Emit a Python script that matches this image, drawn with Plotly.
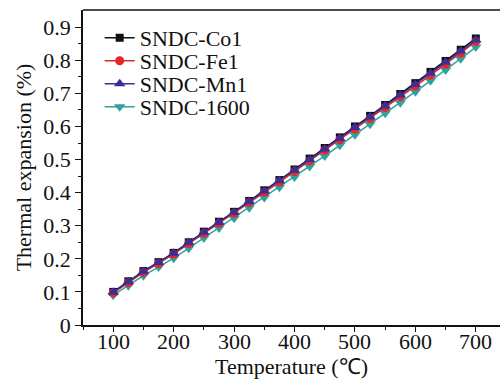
import plotly.graph_objects as go

temperature = [100, 125, 150, 175, 200, 225, 250, 275, 300, 325, 350, 375, 400,
               425, 450, 475, 500, 525, 550, 575, 600, 625, 650, 675, 700]
co1 = [0.100, 0.132, 0.163, 0.190, 0.218, 0.250, 0.282, 0.312, 0.342, 0.375, 0.407, 0.438, 0.470,
       0.503, 0.535, 0.567, 0.600, 0.632, 0.665, 0.698, 0.731, 0.765, 0.798, 0.832, 0.866]
fe1 = [0.097, 0.128, 0.159, 0.186, 0.214, 0.246, 0.277, 0.307, 0.337, 0.370, 0.401, 0.432, 0.464,
       0.496, 0.528, 0.560, 0.592, 0.624, 0.657, 0.690, 0.722, 0.755, 0.788, 0.822, 0.857]
mn1 = [0.099, 0.131, 0.162, 0.189, 0.217, 0.249, 0.280, 0.310, 0.340, 0.373, 0.405, 0.436, 0.468,
       0.500, 0.532, 0.564, 0.597, 0.629, 0.662, 0.695, 0.727, 0.761, 0.794, 0.828, 0.861]
s1600 = [0.090, 0.119, 0.149, 0.175, 0.202, 0.232, 0.263, 0.293, 0.323, 0.354, 0.385, 0.416, 0.447,
         0.479, 0.511, 0.543, 0.575, 0.607, 0.640, 0.672, 0.705, 0.738, 0.771, 0.805, 0.840]
x_ticks = [100, 200, 300, 400, 500, 600, 700]
x_tick_labels = ["100", "200", "300", "400", "500", "600", "700"]

FONT = "Liberation Serif, Times New Roman, serif"
FS = 22

fig = go.Figure()
fig.add_trace(go.Scatter(x=temperature, y=s1600, name="SNDC-1600", mode="lines+markers",
                         line=dict(color="#2fa19e", width=1.5),
                         marker=dict(symbol="triangle-down", size=10, color="#2fa19e"),
                         legend="legend4"))
fig.add_trace(go.Scatter(x=temperature, y=co1, name="SNDC-Co1", mode="lines+markers",
                         line=dict(color="#111111", width=1.5),
                         marker=dict(symbol="square", size=8, color="#111111"),
                         legend="legend"))
fig.add_trace(go.Scatter(x=temperature, y=fe1, name="SNDC-Fe1", mode="lines+markers",
                         line=dict(color="#e8262a", width=1.5),
                         marker=dict(symbol="circle", size=9, color="#e8262a"),
                         legend="legend2"))
fig.add_trace(go.Scatter(x=temperature, y=mn1, name="SNDC-Mn1", mode="lines+markers",
                         line=dict(color="#3a2f98", width=1.5),
                         marker=dict(symbol="triangle-up", size=10, color="#3a2f98"),
                         legend="legend3"))


def leg(ypix):
    return dict(x=0.04, y=(325 - ypix) / 315, xanchor="left", yanchor="middle",
                bgcolor="rgba(0,0,0,0)", borderwidth=0,
                font=dict(family=FONT, size=FS, color="#111111"), itemwidth=30)


annotations = [dict(x=v, y=(325 - 341) / 315, xref="x", yref="paper", text=t,
                    showarrow=False, xanchor="center", yanchor="middle",
                    font=dict(family=FONT, size=FS, color="#111111"))
               for v, t in zip(x_ticks, x_tick_labels)]

fig.update_layout(
    width=500, height=379,
    margin=dict(l=83, r=0, t=10, b=54),
    paper_bgcolor="white", plot_bgcolor="white",
    font=dict(family=FONT, size=FS, color="#111111"),
    showlegend=True,
    legend=leg(38), legend2=leg(61), legend3=leg(84), legend4=leg(107),
    xaxis=dict(range=[50, 740], tickmode="array", tickvals=x_ticks,
               showticklabels=False,
               showline=True, linecolor="#111111", linewidth=1.5,
               ticks="outside", ticklen=5, tickwidth=1.2, tickcolor="#111111",
               minor=dict(tickmode="array", tickvals=[50, 150, 250, 350, 450, 550, 650],
                          ticks="outside", ticklen=3, tickcolor="#111111"),
               showgrid=False, zeroline=False,
               title=dict(text="Temperature (℃)", standoff=29, font=dict(size=FS))),
    yaxis=dict(range=[0, 0.952], tickmode="array",
               tickvals=[0, 0.1, 0.2, 0.3, 0.4, 0.5, 0.6, 0.7, 0.8, 0.9],
               ticktext=["0", "0.1", "0.2", "0.3", "0.4", "0.5", "0.6", "0.7", "0.8", "0.9"],
               showline=True, linecolor="#111111", linewidth=1.5,
               ticks="outside", ticklen=6, tickwidth=1.2, tickcolor="#111111",
               minor=dict(tickmode="array",
                          tickvals=[0.05, 0.15, 0.25, 0.35, 0.45, 0.55, 0.65, 0.75, 0.85],
                          ticks="outside", ticklen=3, tickcolor="#111111"),
               showgrid=False, zeroline=False,
               title=dict(text="Thermal expansion (%)", standoff=6, font=dict(size=FS)),
               tickfont=dict(size=FS)),
    shapes=[dict(type="line", xref="paper", yref="paper", x0=0, x1=1, y0=1, y1=1,
                 line=dict(color="#111111", width=1.5))],
    annotations=annotations,
)

fig.write_html("out.html")
